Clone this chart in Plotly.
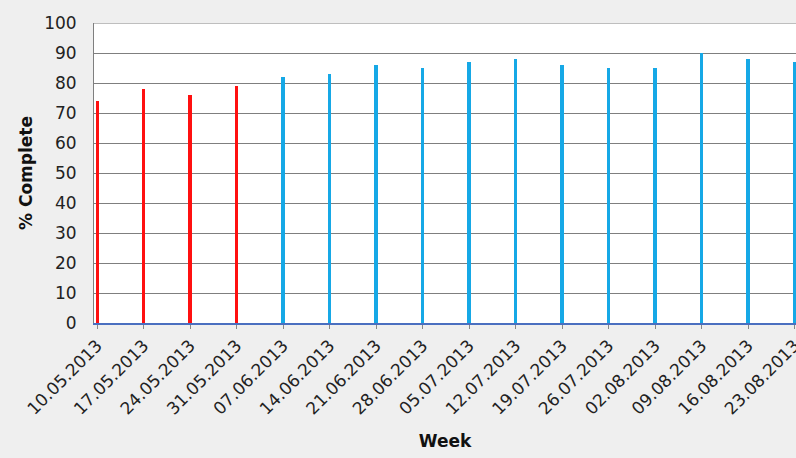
import plotly.graph_objects as go

weeks = ["10.05.2013", "17.05.2013", "24.05.2013", "31.05.2013", "07.06.2013",
         "14.06.2013", "21.06.2013", "28.06.2013", "05.07.2013", "12.07.2013",
         "19.07.2013", "26.07.2013", "02.08.2013", "09.08.2013", "16.08.2013",
         "23.08.2013"]
complete = [74, 78, 76, 79, 82, 83, 86, 85, 87, 88, 86, 85, 85, 90, 88, 87]
# first four weeks are flagged red, the rest shown in blue
flagged = [True, True, True, True] + [False] * 12

colors = ["#ff1010" if f else "#16a8e6" for f in flagged]
xs = list(range(len(weeks)))

fig = go.Figure()
fig.add_trace(go.Bar(
    x=xs, y=complete, width=0.075,
    marker=dict(color=colors, line=dict(width=0)),
    showlegend=False, hoverinfo="skip",
))

font_family = "DejaVu Sans, Verdana, sans-serif"

fig.update_layout(
    width=796, height=458,
    margin=dict(l=94, r=0, t=23, b=135),
    paper_bgcolor="#efefef",
    plot_bgcolor="#ffffff",
    font=dict(family=font_family, color="#222222"),
    bargap=0,
    # top border line at 100 %
    shapes=[dict(type="line", xref="paper", yref="y", x0=0, x1=1, y0=100, y1=100,
                 line=dict(color="#7f7f7f", width=1), layer="below")],
)
fig.update_xaxes(
    range=[-0.07, 15.03],
    tickmode="array", tickvals=xs, ticktext=weeks,
    tickangle=-45, tickfont=dict(size=17, color="#222222"),
    ticklabeloverflow="allow",
    ticks="outside", ticklen=4, tickcolor="#888888",
    showgrid=False, zeroline=False,
    showline=True, linecolor="#4a6fc0", linewidth=2,
    automargin=False,
    title=dict(text="<b>Week</b>", font=dict(size=17, color="#111111"), standoff=18),
)
fig.update_yaxes(
    range=[0, 100], dtick=10,
    tickfont=dict(size=17, color="#222222"),
    ticks="", ticklabelstandoff=13,
    showgrid=True, gridcolor="#7f7f7f", gridwidth=1,
    zeroline=False,
    showline=True, linecolor="#7f7f7f", linewidth=1,
    automargin=False,
    title=dict(text="<b>% Complete</b>", font=dict(size=17, color="#111111"), standoff=7),
)

fig.write_html("out.html")
